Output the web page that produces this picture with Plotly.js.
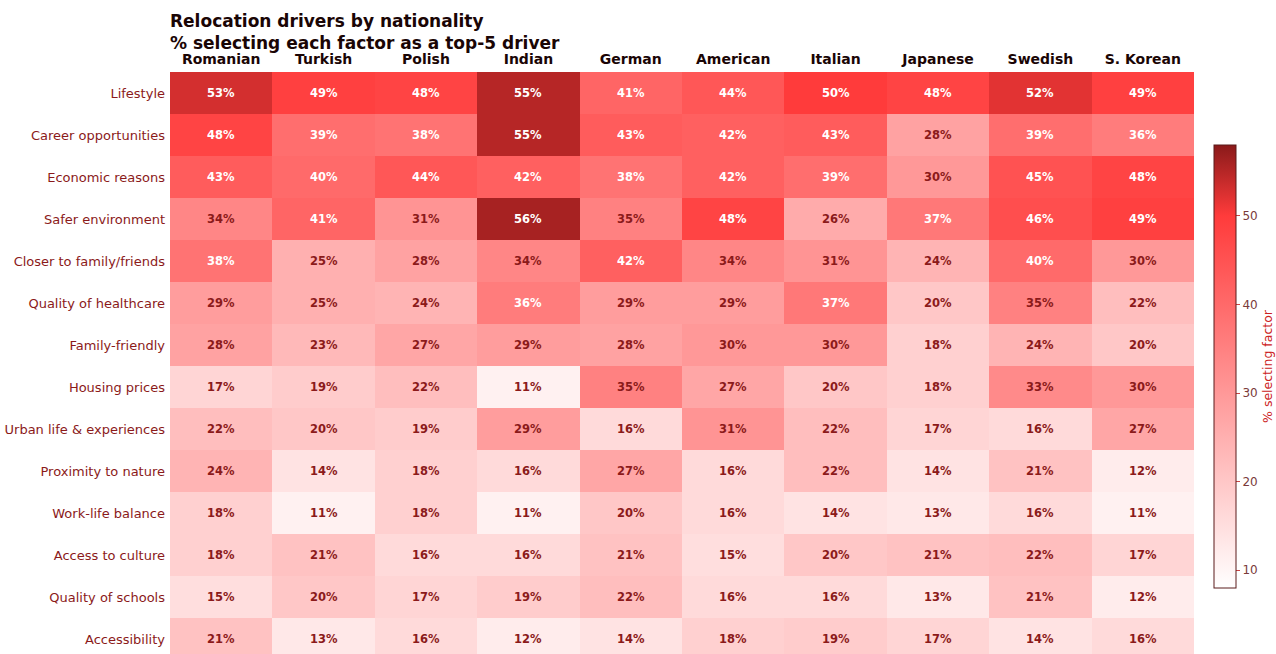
<!DOCTYPE html>
<html>
<head>
<meta charset="utf-8">
<script src="https://cdn.plot.ly/plotly-3.0.1.min.js"></script>
<style>
html,body{margin:0;padding:0;overflow:hidden;background:#fff;}
#chart{width:1276px;height:661px;}
</style>
</head>
<body>
<div id="chart"></div>
<script>
const nationalities = ["Romanian","Turkish","Polish","Indian","German","American","Italian","Japanese","Swedish","S. Korean"];
const factors = ["Lifestyle","Career opportunities","Economic reasons","Safer environment","Closer to family/friends","Quality of healthcare","Family-friendly","Housing prices","Urban life & experiences","Proximity to nature","Work-life balance","Access to culture","Quality of schools","Accessibility"];
const lifestyle = [53,49,48,55,41,44,50,48,52,49];
const career = [48,39,38,55,43,42,43,28,39,36];
const economic = [43,40,44,42,38,42,39,30,45,48];
const safer = [34,41,31,56,35,48,26,37,46,49];
const closer = [38,25,28,34,42,34,31,24,40,30];
const healthcare = [29,25,24,36,29,29,37,20,35,22];
const familyFriendly = [28,23,27,29,28,30,30,18,24,20];
const housing = [17,19,22,11,35,27,20,18,33,30];
const urban = [22,20,19,29,16,31,22,17,16,27];
const nature = [24,14,18,16,27,16,22,14,21,12];
const workLife = [18,11,18,11,20,16,14,13,16,11];
const culture = [18,21,16,16,21,15,20,21,22,17];
const schools = [15,20,17,19,22,16,16,13,21,12];
const accessibility = [21,13,16,12,14,18,19,17,14,16];
const z = [lifestyle,career,economic,safer,closer,healthcare,familyFriendly,housing,urban,nature,workLife,culture,schools,accessibility];

const zmin = 8, zmax = 58;
const annotations = [];
factors.forEach((f,i)=>{
  nationalities.forEach((n,j)=>{
    const v = z[i][j];
    annotations.push({
      x: n, y: f, xref:'x', yref:'y', text: v + '%', showarrow:false,
      font:{family:'DejaVu Sans', size:11.5, color: v > 35 ? '#ffffff' : '#8b1a1a', weight:'bold'}
    });
  });
});

const trace = {
  type:'heatmap', x: nationalities, y: factors, z: z,
  zmin: zmin, zmax: zmax,
  colorscale: [[0,'#ffffff'],[0.84,'#ff3b3b'],[1,'#8a1a1a']],
  xgap:0, ygap:0, hoverinfo:'skip',
  colorbar:{
    x: 1 + 20/1024, xanchor:'left', xpad:0,
    y: (660-366.5)/588, yanchor:'middle', ypad:0,
    lenmode:'pixels', len:443, thickness:22, thicknessmode:'pixels',
    outlinewidth:1, outlinecolor:'#5a1a1a',
    tickvals:[10,20,30,40,50], ticks:'outside', ticklen:4, tickcolor:'#cc4444',
    tickfont:{family:'DejaVu Sans', size:12, color:'#7a3a3a'},
    title:{text:'% selecting factor', side:'right', font:{family:'DejaVu Sans', size:12.5, color:'#cc2222'}}
  }
};

const layout = {
  width:1276, height:661,
  margin:{l:170, r:82, t:72, b:1, autoexpand:false},
  paper_bgcolor:'#ffffff', plot_bgcolor:'#ffffff',
  font:{family:'DejaVu Sans'},
  title:{
    text:'Relocation drivers by nationality<br>% selecting each factor as a top-5 driver',
    x:170/1276, xref:'container', xanchor:'left',
    y:1-27/661, yref:'container', yanchor:'top',
    font:{family:'DejaVu Sans', size:17, color:'#1a0505', weight:'bold'}
  },
  xaxis:{side:'top', showgrid:false, zeroline:false, ticks:'', showline:false,
    tickfont:{family:'DejaVu Sans', size:14, color:'#1a0505', weight:'bold'}, ticklabelstandoff:4},
  yaxis:{autorange:'reversed', showgrid:false, zeroline:false, ticks:'', showline:false,
    tickfont:{family:'DejaVu Sans', size:13, color:'#8b1a1a'}, ticklabelstandoff:4},
  annotations: annotations
};

Plotly.newPlot('chart',[trace],layout,{displayModeBar:false, staticPlot:true});
</script>
</body>
</html>
